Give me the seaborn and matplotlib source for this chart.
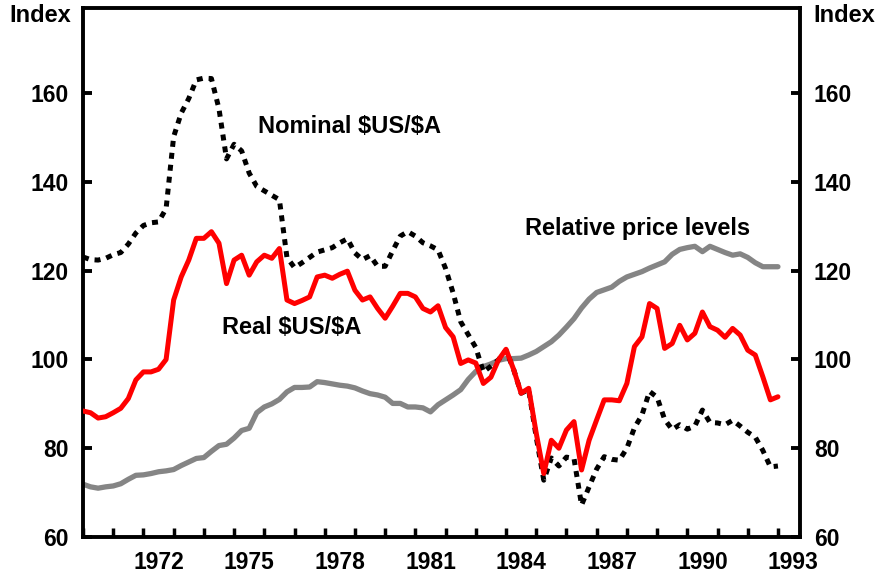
import numpy as np
import matplotlib
matplotlib.use('Agg')
import matplotlib.pyplot as plt
from matplotlib.ticker import MultipleLocator, FixedLocator, FixedFormatter, NullFormatter
import seaborn as sns

# ++++++++++++++++++++++++++++++++++++++++++++++++++++++++++++++++++++ Data (quarterly, 1970Q1 - 1993Q1)
quarters = 1970 + np.arange(93) / 4

relative = [71.9, 71.3, 71.0, 71.3, 71.5, 72.0, 73.0, 73.9, 74.0, 74.3,
            74.7, 74.9, 75.2, 76.1, 76.9, 77.7, 77.9, 79.3, 80.6, 80.9,
            82.3, 84.0, 84.5, 88.0, 89.3, 90.0, 91.0, 92.7, 93.7, 93.7,
            93.8, 95.0, 94.8, 94.5, 94.2, 94.0, 93.6, 92.9, 92.3, 92.0,
            91.5, 90.1, 90.1, 89.3, 89.3, 89.1, 88.2, 89.8, 90.9, 92.0,
            93.2, 95.5, 97.3, 98.4, 99.0, 99.8, 100.2, 100.2, 100.3, 101.0,
            101.8, 102.9, 104.0, 105.5, 107.3, 109.2, 111.6, 113.6, 115.1, 115.7,
            116.3, 117.6, 118.6, 119.2, 119.8, 120.6, 121.3, 122.0, 123.7, 124.8,
            125.2, 125.5, 124.3, 125.5, 124.8, 124.1, 123.5, 123.8, 123.0, 121.8,
            120.9, 120.9, 120.9]

real = [88.4, 88.0, 86.8, 87.1, 88.0, 89.0, 91.2, 95.4, 97.2, 97.2,
        97.8, 100.0, 113.4, 118.6, 122.4, 127.3, 127.3, 128.8, 126.2, 117.1,
        122.4, 123.5, 119.0, 122.0, 123.5, 122.8, 125.0, 113.4, 112.6, 113.3,
        114.1, 118.6, 119.0, 118.3, 119.2, 119.9, 115.6, 113.4, 114.1, 111.5,
        109.3, 112.0, 114.9, 114.9, 114.1, 111.5, 110.7, 112.1, 107.2, 105.1,
        99.1, 99.9, 99.2, 94.6, 96.0, 99.9, 102.3, 97.8, 92.4, 93.5,
        83.4, 74.3, 81.8, 80.0, 84.1, 86.0, 75.1, 81.8, 86.4, 90.9,
        90.9, 90.7, 94.6, 102.9, 105.1, 112.6, 111.5, 102.5, 103.6, 107.7,
        104.4, 105.9, 110.7, 107.4, 106.6, 105.0, 107.0, 105.5, 102.1, 101.0,
        96.1, 90.9, 91.6]

nominal = [123.1, 122.5, 122.4, 122.8, 123.6, 124.1, 126.0, 128.5, 130.2, 130.8,
           131.0, 134.0, 150.2, 155.5, 158.8, 163.0, 163.4, 163.3, 156.5, 145.2,
           148.5, 147.0, 142.0, 139.0, 138.0, 137.0, 136.0, 123.0, 120.7, 121.8,
           123.0, 124.2, 124.7, 125.2, 126.3, 127.2, 124.0, 122.5, 123.4, 121.0,
           121.0, 124.5, 127.8, 128.8, 127.8, 126.3, 125.6, 124.7, 120.5, 115.0,
           108.5, 105.6, 102.7, 97.2, 98.5, 99.9, 102.1, 97.8, 92.4, 93.2,
           82.5, 72.8, 77.8, 76.0, 78.0, 77.7, 67.2, 71.3, 75.3, 78.1,
           77.5, 77.3, 80.0, 84.6, 87.5, 92.8, 91.5, 86.5, 84.2, 85.3,
           84.3, 85.0, 88.6, 85.8, 85.7, 85.3, 86.3, 85.0, 83.6, 82.5,
           79.5, 75.8, 76.0]

label_years = [1972, 1975, 1978, 1981, 1984, 1987, 1990, 1993]
y_ticks = [60, 80, 100, 120, 140, 160]

# ++++++++++++++++++++++++++++++++++++++++++++++++++++++++++++++++++++ Style
sns.set_style('white')
plt.rcParams['font.family'] = ['Liberation Sans', 'DejaVu Sans']
plt.rcParams['font.weight'] = 'bold'
plt.rcParams['text.color'] = 'black'
plt.rcParams['xtick.color'] = 'black'
plt.rcParams['ytick.color'] = 'black'
plt.rcParams['xtick.labelcolor'] = 'black'
plt.rcParams['ytick.labelcolor'] = 'black'

fig = plt.figure(figsize=(8.79, 5.74), dpi=100)
ax = fig.add_axes([83 / 879, 37 / 574, 717 / 879, 529 / 574])

sns.lineplot(x=quarters, y=relative, color='#858585', lw=3.8, ax=ax, zorder=2)
sns.lineplot(x=quarters, y=nominal, color='black', lw=3.6, ax=ax, zorder=3,
             linestyle=(0, (1.2, 1.2)))
sns.lineplot(x=quarters, y=real, color='#ff0000', lw=3.6, ax=ax, zorder=4)

ax.set_xlim(1970, 1993.73)
ax.set_ylim(60, 179.2)
ax.set_yticks(y_ticks)

# year ticks on boundaries, labels centred in the year
ax.xaxis.set_major_locator(MultipleLocator(1))
ax.xaxis.set_major_formatter(NullFormatter())
ax.xaxis.set_minor_locator(FixedLocator([y + 0.5 for y in label_years]))
ax.xaxis.set_minor_formatter(FixedFormatter([str(y) for y in label_years]))
ax.tick_params(axis='x', which='major', direction='in', length=6.5, width=2.5,
               bottom=True, top=False, color='black')
ax.tick_params(axis='x', which='minor', length=0, pad=10, labelsize=16.5, labelcolor='black')
ax.tick_params(axis='y', direction='in', length=6.5, width=2.8, left=True, right=True,
               labelleft=True, labelright=True, labelsize=16.5, pad=10,
               color='black', labelcolor='black')

for s in ax.spines.values():
    s.set_linewidth(2.8)
    s.set_color('black')

ax.set_xlabel('')
ax.set_ylabel('')

fig.text(71 / 879, 1 - 15 / 574, 'Index', ha='right', va='center', fontsize=17,
         weight='bold', color='black')
fig.text(813 / 879, 1 - 15 / 574, 'Index', ha='left', va='center', fontsize=17,
         weight='bold', color='black')

ax.text(1975.79, 152.6, r'Nominal \$US/\$A', ha='left', va='center', fontsize=17,
        weight='bold', color='black')
ax.text(1974.6, 107.1, r'Real \$US/\$A', ha='left', va='center', fontsize=17,
        weight='bold', color='black')
ax.text(1984.62, 129.6, 'Relative price levels', ha='left', va='center', fontsize=17,
        weight='bold', color='black')

plt.savefig('out.png', dpi=100)
